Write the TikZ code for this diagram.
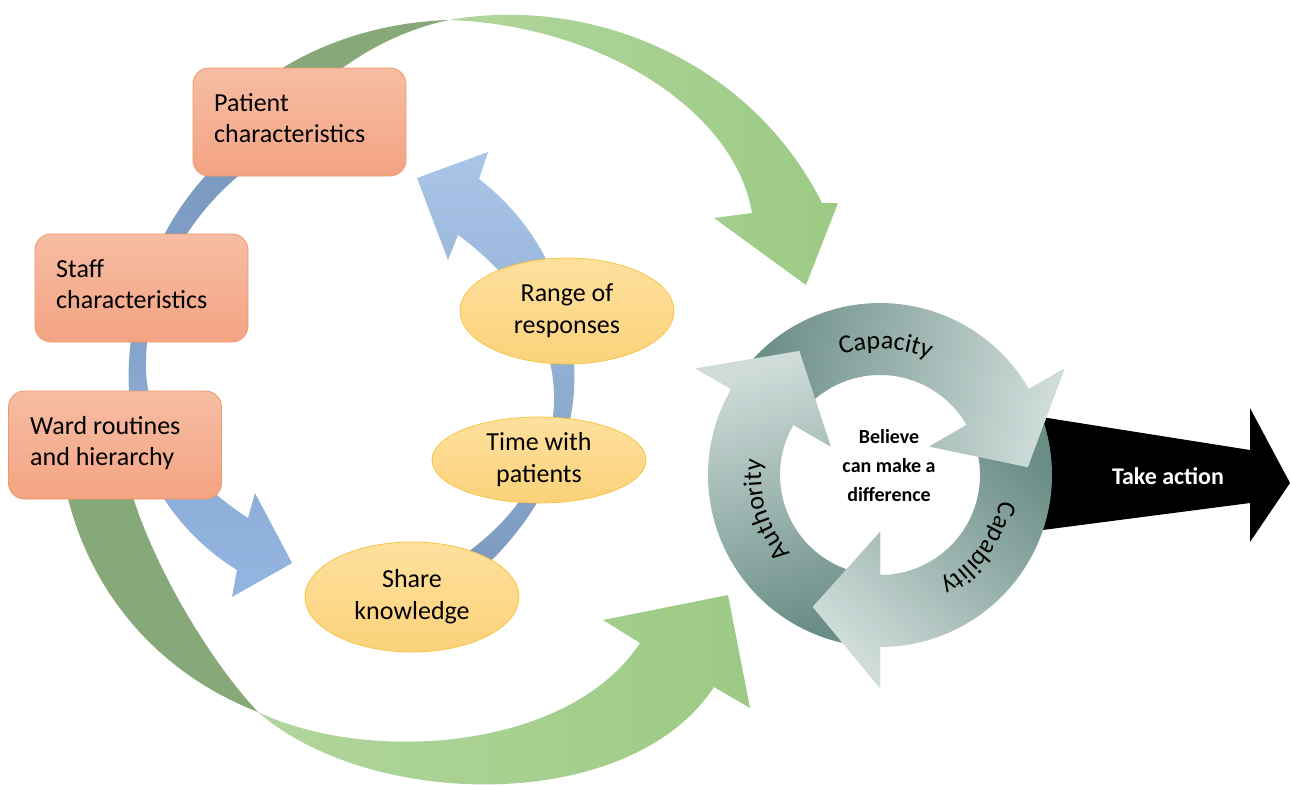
\documentclass[tikz,border=0pt]{standalone}
\usepackage{fontspec}
\setmainfont{Carlito}
\usetikzlibrary{shapes.geometric,decorations.text}
\definecolor{boxT}{HTML}{F6BDA4}
\definecolor{boxB}{HTML}{F4A382}
\definecolor{boxE}{HTML}{EF9A6B}
\definecolor{ellT}{HTML}{FEE09D}
\definecolor{ellB}{HTML}{FCD27B}
\definecolor{ellE}{HTML}{F6C445}
\definecolor{blueD}{HTML}{7B98BE}
\definecolor{blueM}{HTML}{93B5E1}
\definecolor{blueL}{HTML}{A9C5E8}
\definecolor{greenD}{HTML}{87A878}
\definecolor{greenL}{HTML}{B2D69E}
\definecolor{greenM}{HTML}{9CCA84}
\definecolor{ringD}{HTML}{6A8D85}
\definecolor{ringL}{HTML}{CFDCDA}
\newcommand{\ringarrow}[4]{%
 \shade[shading=axis, top color=ringL, bottom color=ringD, shading angle=#4]
 plot[domain=#1:#2, samples=60] ({880+172*cos(\x)},{475+172*sin(\x)})
 -- ({880+213*cos(#2)},{475+213*sin(#2)})
 -- ({880+148*cos(#3)},{475+148*sin(#3)})
 -- ({880+57*cos(#2)},{475+57*sin(#2)})
 -- plot[domain=#2:#1, samples=60] ({880+100*cos(\x)},{475+100*sin(\x)})
 -- cycle;}
\newcommand{\ringhead}[4]{%
 \begin{scope}
 \clip (880,475) -- ({880+300*cos(#2-1)},{475+300*sin(#2-1)}) -- ({880+300*cos(#3+4)},{475+300*sin(#3+4)}) -- cycle;
 \ringarrow{#1}{#2}{#3}{#4}
 \end{scope}}
\tikzset{
 factor/.style={rounded corners=16pt, draw=boxE, line width=0.8pt, top color=boxT, bottom color=boxB,
   minimum width=213pt, minimum height=108pt, inner sep=0pt},
 boxtext/.style={anchor=west, align=left, inner sep=0pt, font=\fontsize{26}{31}\selectfont, text=black},
 resp/.style={ellipse, draw=ellE, line width=0.8pt, top color=ellT, bottom color=ellB,
   minimum width=214pt, minimum height=106pt, inner sep=0pt, align=center,
   font=\fontsize{26}{32}\selectfont, text=black},
 ringtext/.style={decorate, decoration={text along path, text align=center, text={#1}}}
}
\begin{document}
\begin{tikzpicture}[x=1pt,y=-1pt]
\useasboundingbox (0,0) rectangle (1290,785);
% ---- green top arrow
\fill[greenD] (240,100) .. controls (300,45) and (380,22) .. (449,20)
 .. controls (410,28) and (355,50) .. (305,100) -- cycle;
\shade[left color=greenL, right color=greenM]
 (449,20) .. controls (590,-5) and (750,60) .. (822,203)
 -- (838,203) -- (806,285) -- (714,218) -- (752,213)
 .. controls (735,110) and (600,25) .. (449,20) -- cycle;
% ---- green bottom arrow
\fill[greenD] (62,470) .. controls (80,580) and (150,670) .. (258,712)
 .. controls (200,650) and (140,540) .. (126,470) -- cycle;
\shade[left color=greenL, right color=greenM]
 (258,712) .. controls (370,765) and (570,750) .. (640,643)
 -- (603,620) -- (728,595) -- (750,708) -- (714,687)
 .. controls (630,815) and (370,810) .. (258,712) -- cycle;
% ---- blue left arc
\shade[top color=blueD, middle color=blueM, bottom color=blueM]
 (232,150) .. controls (150,220) and (125,320) .. (129,391)
 .. controls (132,470) and (180,535) .. (237,570)
 -- (232,597) -- (292,563) -- (255,493) -- (248,518)
 .. controls (190,480) and (148,430) .. (146,370)
 .. controls (144,290) and (190,200) .. (275,150)
 -- cycle;
% ---- blue right arc
\shade[top color=blueL, middle color=blueM, bottom color=blueD]
 (470,580) .. controls (530,530) and (570,460) .. (574,390)
 .. controls (578,320) and (552,235) .. (479,179)
 -- (488,152) -- (417,178) -- (448,260) -- (458,235)
 .. controls (520,280) and (555,340) .. (554,400)
 .. controls (553,470) and (510,530) .. (440,570)
 -- cycle;
% ---- boxes
\node[factor] (patient) at (299.5,122) {};
\node[boxtext] (patientT) at (214,118) {Patient\\characteristics};
\node[factor] (staff) at (141.5,288) {};
\node[boxtext] (staffT) at (56,284) {Staff\\characteristics};
\node[factor] (ward) at (115,445) {};
\node[boxtext] (wardT) at (30,443) {Ward routines\\and hierarchy};
% ---- ellipses
\node[resp] (range) at (567,311) {Range of\\responses};
\node[resp, minimum height=86pt] (time) at (539,460) {Time with\\patients};
\node[resp, minimum height=110pt] (share) at (412,597) {Share\\knowledge};
% ---- take action arrow
\fill[black] (1035,416) -- (1250,450) -- (1250,408) -- (1290,483) -- (1250,542) -- (1250,503) -- (1035,531) -- cycle;
\node[font=\bfseries\fontsize{24}{28}\selectfont, text=white] (act) at (1168,476) {Take action};
% ---- ring of arrows
\ringarrow{95}{210}{237}{17}
\ringarrow{215}{330}{357}{-101}
\ringarrow{335}{450}{477}{137}
\ringhead{95}{210}{237}{17}
\ringhead{215}{330}{357}{-101}
\ringhead{335}{450}{477}{137}
\path[ringtext={|\fontsize{26}{30}\selectfont|Capacity}] plot[domain=-130:-45, samples=80] ({880+126*cos(\x)},{475+126*sin(\x)});
\path[ringtext={|\fontsize{26}{30}\selectfont|Authority}] plot[domain=120:206, samples=80] ({880+119*cos(\x)},{475+119*sin(\x)});
\path[ringtext={|\fontsize{26}{30}\selectfont|Capability}] plot[domain=-6:79, samples=80] ({880+123*cos(\x)},{475+123*sin(\x)});
\node[font=\bfseries\fontsize{20}{29}\selectfont, align=center] (believe) at (889,466) {Believe\\can make a\\difference};
\end{tikzpicture}
\end{document}
